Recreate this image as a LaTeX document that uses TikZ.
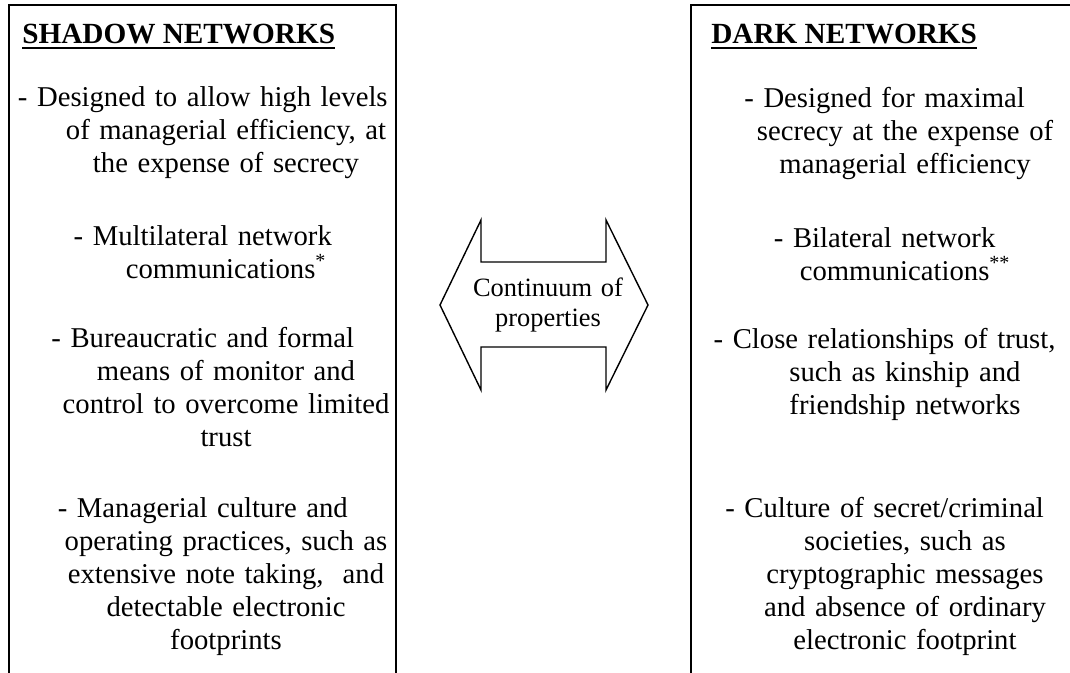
\documentclass[tikz,border=0pt]{standalone}
\usepackage{fontspec}
\setmainfont{Liberation Serif}
\tikzset{
  frame/.style={draw=black, line width=1.3pt},
  heading/.style={font=\fontsize{20.8}{23.5}\selectfont\bfseries,
    anchor=base west, inner sep=0pt},
  item/.style={font=\fontsize{20.4}{23.5}\selectfont, text width=12cm,
    align=center, anchor=base, inner sep=0pt},
  twoway/.style={draw=black, line width=1pt, line join=miter},
  arrowtext/.style={font=\fontsize{18.8}{22}\selectfont, text width=4cm,
    align=center, anchor=base, inner sep=0pt}
}
\newcommand{\dashlead}[2][33pt]{-\ #2\rule{#1}{0pt}}

\begin{document}
\begin{tikzpicture}[x=0.025cm, y=-0.025cm]
        \useasboundingbox (0,0) rectangle (1070,672);
        % the two boxes (cut off by the page)
        \draw [frame] (9,5) rectangle (396,700);
        \draw [frame] (691,5) rectangle (1100,700);
        % shadow networks
        \node [style=heading] (sh) at (22,43) {SHADOW NETWORKS};
        \node [style=item] (s1) at (226,106) {\dashlead{Designed to allow high levels}\\
          of managerial efficiency, at\\ the expense of secrecy};
        \node [style=item] (s2) at (226,245) {\dashlead{Multilateral network}\\
          communications\textsuperscript{*}};
        \node [style=item] (s3) at (226,347) {\dashlead{Bureaucratic and formal}\\
          means of monitor and\\ control to overcome limited\\ trust};
        \node [style=item] (s4) at (226,517) {\dashlead{Managerial culture and}\\
          operating practices, such as\\ extensive note taking,~ and\\
          detectable electronic\\ footprints};
        % dark networks
        \node [style=heading] (dk) at (711,43) {DARK NETWORKS};
        \node [style=item] (d1) at (905,107) {\dashlead[29pt]{Designed for maximal}\\
          secrecy at the expense of\\ managerial efficiency};
        \node [style=item] (d2) at (905,247) {\dashlead[29pt]{Bilateral network}\\
          communications\textsuperscript{**}};
        \node [style=item] (d3) at (905,348) {\dashlead[29pt]{Close relationships of trust,}\\
          such as kinship and\\ friendship networks};
        \node [style=item] (d4) at (905,517) {\dashlead[29pt]{Culture of secret/criminal}\\
          societies, such as\\ cryptographic messages\\ and absence of ordinary\\
          electronic footprint};
        \draw [line width=1.4pt] ([yshift=-3.5pt]sh.base west) -- ([yshift=-3.5pt]sh.base east);
        \draw [line width=1.4pt] ([yshift=-3.5pt]dk.base west) -- ([yshift=-3.5pt]dk.base east);
        % two-way arrow in the middle
        \draw [style=twoway] (440,305) -- (481,220) -- (481,262) -- (606,262) -- (606,220)
          -- (648,305) -- (606,390) -- (606,347) -- (481,347) -- (481,390) -- cycle;
        \node [style=arrowtext] (cont) at (548,296) {Continuum of\\ properties};
    \end{tikzpicture}
\end{document}
